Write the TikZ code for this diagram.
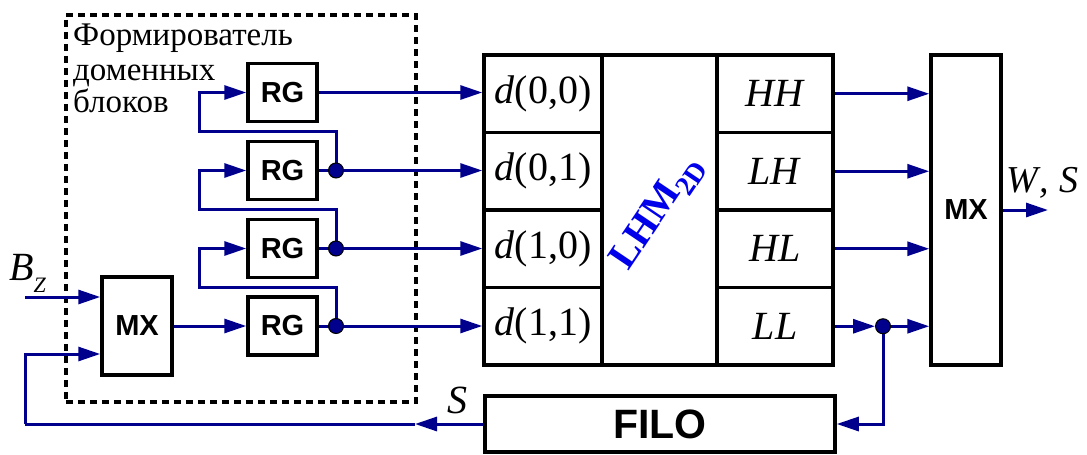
\documentclass[tikz,border=0pt]{standalone}
\usepackage{fontspec}
\setmainfont{Liberation Serif}
\setsansfont{Liberation Sans}
\usetikzlibrary{arrows.meta,calc}
\definecolor{wirecol}{RGB}{0,0,140}
\definecolor{lhmcol}{RGB}{0,0,235}
\begin{document}
\begin{tikzpicture}[x=1pt,y=-1pt,
  blk/.style={draw=black, line width=3.5pt, inner sep=0pt},
  sanslbl/.style={font=\fontsize{29}{32}\selectfont\sffamily\bfseries},
  serlbl/.style={font=\fontsize{40}{44}\selectfont},
  wire/.style={draw=wirecol, line width=3pt},
  arr/.style={wire, -{Triangle[length=22pt,width=14pt]}},
  jdot/.style={circle, fill=wirecol, draw=black, line width=1pt, minimum size=15pt, inner sep=0pt},
  fence/.style={draw=black, line width=3.5pt, dash pattern=on 7pt off 5pt, inner sep=0pt}]
\useasboundingbox (0,0) rectangle (1087,455);

% dashed frame
\node[fence, anchor=north west, minimum width=350pt, minimum height=387pt] (former) at (64,13) {};
\node[anchor=base west, font=\fontsize{33}{36}\selectfont, inner sep=0pt] (t1) at (73,45) {Формирователь};
\node[anchor=base west, font=\fontsize{33}{36}\selectfont, inner sep=0pt] (t2) at (73,80) {доменных};
\node[anchor=base west, font=\fontsize{33}{36}\selectfont, inner sep=0pt] (t3) at (73,112) {блоков};

% registers
\node[blk, sanslbl, minimum width=69pt, minimum height=58pt] (rg1) at (282.5,92.5) {RG};
\node[blk, sanslbl, minimum width=69pt, minimum height=58pt] (rg2) at (282.5,170.5) {RG};
\node[blk, sanslbl, minimum width=69pt, minimum height=58pt] (rg3) at (282.5,248.5) {RG};
\node[blk, sanslbl, minimum width=69pt, minimum height=58pt] (rg4) at (282.5,326) {RG};

% left MX
\node[blk, sanslbl, minimum width=70pt, minimum height=98pt] (mxl) at (137,326) {MX};

% big block
\node[blk, serlbl, minimum width=118pt, minimum height=77.5pt] (d00) at (543,93.75) {\textit{d}(0,0)};
\node[blk, serlbl, minimum width=118pt, minimum height=77.5pt] (d01) at (543,171.25) {\textit{d}(0,1)};
\node[blk, serlbl, minimum width=118pt, minimum height=77.5pt] (d10) at (543,248.75) {\textit{d}(1,0)};
\node[blk, serlbl, minimum width=118pt, minimum height=77.5pt] (d11) at (543,326.25) {\textit{d}(1,1)};
\node[blk, minimum width=115pt, minimum height=310pt] (lhm) at (659.5,210) {};
\node[rotate=56, text=lhmcol, font=\fontsize{40}{44}\selectfont\bfseries, inner sep=0pt] (lhmtxt) at (658,213) {LHM\textsubscript{2D}};
\node[blk, serlbl, minimum width=116pt, minimum height=77.5pt] (hh) at (775,93.75) {\textit{HH}};
\node[blk, serlbl, minimum width=116pt, minimum height=77.5pt] (lh) at (775,171.25) {\textit{LH}};
\node[blk, serlbl, minimum width=116pt, minimum height=77.5pt] (hl) at (775,248.75) {\textit{HL}};
\node[blk, serlbl, minimum width=116pt, minimum height=77.5pt] (ll) at (775,326.25) {\textit{LL}};

% right MX
\node[blk, sanslbl, minimum width=70pt, minimum height=310pt] (mxr) at (966,210) {MX};

% FILO
\node[blk, font=\fontsize{41}{44}\selectfont\sffamily\bfseries, minimum width=350pt, minimum height=56pt] (filo) at (660,424) {FILO};

% labels
\node[anchor=base west, font=\fontsize{40}{44}\selectfont, inner sep=0pt] (bzl) at (9,280) {\itshape B\raisebox{-12pt}{\fontsize{22}{22}\selectfont Z}};
\node[anchor=base west, font=\fontsize{40}{44}\selectfont, inner sep=0pt] (sl) at (447,413) {\itshape S};
\node[anchor=base west, font=\fontsize{38}{42}\selectfont, inner sep=0pt] (wsl) at (1006,192) {\itshape W\hspace{2pt},\hspace{10pt}S};

% coordinates
\coordinate (j2) at (336,170.5);
\coordinate (j3) at (336,248.5);
\coordinate (j4) at (336,326);
\coordinate (k1) at (199,131);
\coordinate (k2) at (199,209.5);
\coordinate (k3) at (199,287.5);
\coordinate (bz) at (25,297);
\coordinate (fa) at (415,424);
\coordinate (fb) at (25,424);
\coordinate (fc) at (25,354);
\coordinate (jl) at (883,326.25);
\coordinate (jlpre) at (875,326.25);
\coordinate (wo) at (1048,210);

% register outputs
\draw[arr] (rg1.east) -- (rg1.east -| d00.west);
\draw[wire] (rg2.east) -- (j2);
\draw[wire] (rg3.east) -- (j3);
\draw[wire] (rg4.east) -- (j4);
\draw[arr] (j2) -- (j2 -| d01.west);
\draw[arr] (j3) -- (j3 -| d10.west);
\draw[arr] (j4) -- (j4 -| d11.west);
% shift loops
\draw[arr] (j2) |- (k1) |- (rg1.west);
\draw[arr] (j3) |- (k2) |- (rg2.west);
\draw[arr] (j4) |- (k3) |- (rg3.west);
\node[jdot] (dj2) at (j2) {};
\node[jdot] (dj3) at (j3) {};
\node[jdot] (dj4) at (j4) {};

% left MX
\draw[arr] (mxl.east) -- (mxl.east -| rg4.west);
\draw[arr] (bz) -- (bz -| mxl.west);
\draw[arr] (filo.west) -- (fa);
\draw[wire] (fa) -- (fb);
\draw[arr] (fb) -- (fc) -- (fc -| mxl.west);

% right side
\draw[arr] (hh.east) -- (hh.east -| mxr.west);
\draw[arr] (lh.east) -- (lh.east -| mxr.west);
\draw[arr] (hl.east) -- (hl.east -| mxr.west);
\draw[arr] (ll.east) -- (jlpre);
\draw[arr] (jl) -- (jl -| mxr.west);
\draw[arr] (jl) |- (filo.east);
\node[jdot] (djl) at (jl) {};
\draw[arr] (mxr.east) -- (wo);
\end{tikzpicture}
\end{document}
